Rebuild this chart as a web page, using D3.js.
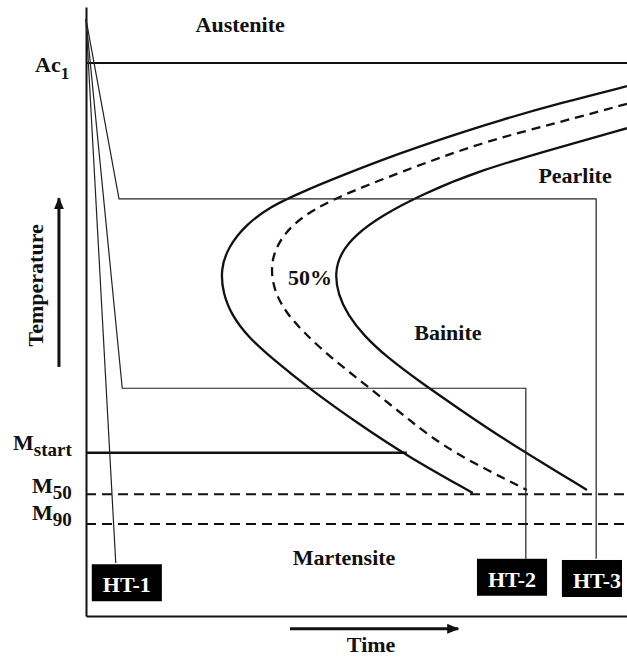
<!DOCTYPE html>
<html><head><meta charset="utf-8">
<script src="https://cdn.jsdelivr.net/npm/d3@7/dist/d3.min.js"></script>
<style>
body{margin:0;background:#fff}
text{font-family:"Liberation Serif","Times New Roman",serif;font-weight:bold;fill:#111}
</style>
</head><body>
<svg id="c" width="627" height="657"></svg>
<script>
// ---- data (time: 0-100 arbitrary units, temperature: 0-100 arbitrary units) ----
const levelNames = ["Ac", "M", "M", "M"];
const levelSubs  = ["1", "start", "50", "90"];
const levelTemps = [90.8, 26.8, 20.0, 15.1];
const levelEnds  = [100, 59.3, 100, 100];      // time where the line stops
const levelDashed = [false, false, true, true];

// transformation curves [time, temperature]
const curveStart = [[100,87.0],[87.6,84.2],[76.5,81.4],[67.3,78.8],[58.0,76.0],[46.9,72.2],[39.6,69.5],[34.0,67.2],[29.5,64.2],[26.3,60.6],[24.9,57.0],[25.3,53.0],[27.0,49.3],[30.0,45.8],[34.5,42.2],[41.5,37.2],[50.3,31.6],[59.3,26.3],[71.5,20.2]];
const curve50    = [[100,84.1],[87.6,81.1],[72.8,77.7],[58.2,72.9],[47.0,69.0],[40.5,66.0],[36.6,62.8],[34.6,59.5],[34.2,56.3],[35.0,53.0],[37.0,49.8],[40.2,46.6],[45.0,42.6],[52.5,37.4],[60.0,32.0],[67.3,27.0],[81.5,20.7]];
const curveEnd   = [[100,80.1],[87.6,77.0],[72.8,73.2],[62.0,69.2],[54.8,65.8],[49.8,62.6],[47.0,59.5],[46.0,56.3],[46.6,52.8],[48.4,49.4],[51.4,46.0],[55.5,42.6],[61.5,38.6],[68.5,34.3],[76.5,29.4],[92.6,20.7]];

// heat-treatment cooling paths
const htNames = ["HT-1", "HT-2", "HT-3"];
const htPaths = [
  [[0,98.0],[5.5,8.7]],
  [[0,98.0],[6.7,37.4],[81.3,37.4],[81.3,9.4]],
  [[0,98.0],[6.1,68.5],[94.3,68.5],[94.3,9.4]]
];
const htLabelPos = [[3.1,3.9],[74.3,4.8],[90.0,4.6]];

// region labels
const regionNames = ["Austenite", "Pearlite", "Bainite", "50%", "Martensite"];
const regionPos   = [[28.5,95.9],[90.4,71.1],[66.9,45.3],[41.4,54.4],[47.7,8.4]];

// ---- drawing ----
const W = 627, H = 657;
const svg = d3.select("#c");
const x = d3.scaleLinear().domain([0,100]).range([86,627]);
const y = d3.scaleLinear().domain([0,100]).range([616,7]);

const defs = svg.append("defs");
defs.append("marker").attr("id","arr").attr("viewBox","0 0 12 10")
  .attr("refX",11).attr("refY",5).attr("markerWidth",12).attr("markerHeight",10)
  .attr("markerUnits","userSpaceOnUse").attr("orient","auto")
  .append("path").attr("d","M0,0L12,5L0,10Z").attr("fill","#111");

// axes
svg.append("g").attr("transform",`translate(${x(0)},0)`)
  .call(d3.axisLeft(y).tickValues([]).tickSizeOuter(0));
svg.append("g").attr("transform",`translate(0,${y(0)})`)
  .call(d3.axisBottom(x).tickValues([]).tickSizeOuter(0));
svg.selectAll(".domain").attr("stroke","#111").attr("stroke-width",2);

// level lines
levelTemps.forEach((T,i)=>{
  svg.append("line")
    .attr("x1",x(0)).attr("x2",x(levelEnds[i]))
    .attr("y1",y(T)).attr("y2",y(T))
    .attr("stroke","#111")
    .attr("stroke-width", i===1 ? 2.5 : 2)
    .attr("stroke-dasharray", levelDashed[i] ? "10,6" : null);
});

// level labels
const levelDy = [9, -3, -1, -4];
const levelX  = [35, 13, 32, 32];
levelTemps.forEach((T,i)=>{
  const t = svg.append("text").attr("x",levelX[i]).attr("y",y(T)+levelDy[i]).attr("font-size",22);
  t.append("tspan").text(levelNames[i]);
  t.append("tspan").attr("dy", i===0?7:6).attr("font-size", i===0?17:19).text(levelSubs[i]);
});

// transformation curves
const smooth = d3.line().x(d=>x(d[0])).y(d=>y(d[1])).curve(d3.curveBasis);
[[curveStart,null],[curve50,"9,6"],[curveEnd,null]].forEach(([c,dash])=>{
  svg.append("path").attr("d",smooth(c)).attr("fill","none")
    .attr("stroke","#111").attr("stroke-width",2.3)
    .attr("stroke-dasharray",dash);
});

// cooling paths
const straight = d3.line().x(d=>x(d[0])).y(d=>y(d[1]));
htPaths.forEach(p=>{
  svg.append("path").attr("d",straight(p)).attr("fill","none")
    .attr("stroke","#222").attr("stroke-width",1.2);
});

// HT boxes
htNames.forEach((n,i)=>{
  const g = svg.append("g");
  const rect = g.append("rect").attr("fill","#000");
  const t = g.append("text").attr("x",x(htLabelPos[i][0])).attr("y",y(htLabelPos[i][1]))
    .attr("font-size",22).style("fill","#fff").text(n);
  const bb = t.node().getBBox();
  const left = bb.x - 11;
  const right = Math.min(bb.x + bb.width + 11, W - 5);
  const by = y(htLabelPos[i][1]);
  rect.attr("x",left).attr("width",right-left).attr("y",by-28).attr("height",37);
});

// region labels
regionNames.forEach((n,i)=>{
  svg.append("text").attr("x",x(regionPos[i][0])).attr("y",y(regionPos[i][1]))
    .attr("text-anchor","middle").attr("font-size",22).text(n);
});

// axis titles and arrows
svg.append("line").attr("x1",x(37.7)).attr("x2",x(68.8)).attr("y1",y(-2.1)).attr("y2",y(-2.1))
  .attr("stroke","#111").attr("stroke-width",3).attr("marker-end","url(#arr)");
svg.append("text").attr("x",x(52.7)).attr("y",y(-5.9)).attr("text-anchor","middle")
  .attr("font-size",22).text("Time");

svg.append("line").attr("x1",x(-5.0)).attr("x2",x(-5.0)).attr("y1",y(40.9)).attr("y2",y(68.6))
  .attr("stroke","#111").attr("stroke-width",3).attr("marker-end","url(#arr)");
svg.append("text").attr("transform",`translate(43,${y(54.3)}) rotate(-90)`)
  .attr("text-anchor","middle").attr("font-size",22).text("Temperature");
</script>
</body></html>
